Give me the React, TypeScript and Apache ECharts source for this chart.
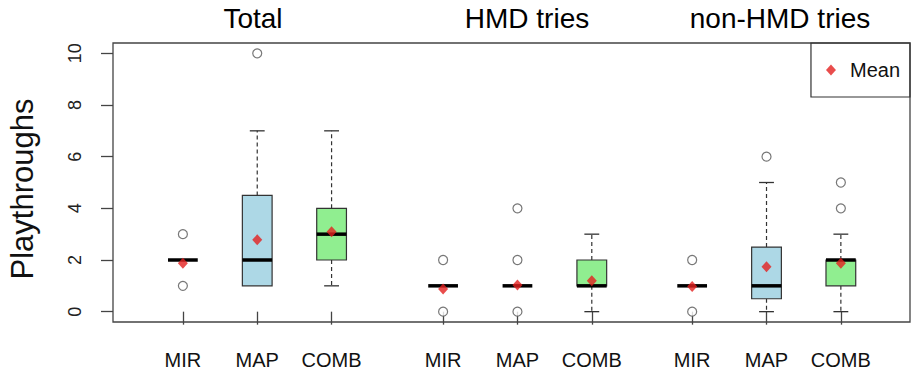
import React, { useEffect, useRef } from "react";
import * as echarts from "echarts";

// ---- data ----
const positions = [1, 2, 3, 4.5, 5.5, 6.5, 7.85, 8.85, 9.85];
const boxLabels = ["MIR", "MAP", "COMB", "MIR", "MAP", "COMB", "MIR", "MAP", "COMB"];
const whiskerLow = [2, 1, 1, 1, 1, 0, 1, 0, 0];
const q1 = [2, 1, 2, 1, 1, 1, 1, 0.5, 1];
const median = [2, 2, 3, 1, 1, 1, 1, 1, 2];
const q3 = [2, 4.5, 4, 1, 1, 2, 1, 2.5, 2];
const whiskerHigh = [2, 7, 7, 1, 1, 3, 1, 5, 3];
const means = [1.87, 2.78, 3.09, 0.88, 1.03, 1.2, 0.97, 1.74, 1.87];
// [box index, value]
const outliers: [number, number][] = [
  [0, 1], [0, 3],
  [1, 10],
  [3, 0], [3, 2],
  [4, 0], [4, 2], [4, 4],
  [6, 0], [6, 2],
  [7, 6],
  [8, 4], [8, 5],
];
const groupTitles = ["Total", "HMD tries", "non-HMD tries"];
const yTicks = [0, 2, 4, 6, 8, 10];
const yTitle = "Playthroughs";

const FONT = "'Liberation Sans', Arial, Helvetica, sans-serif";
const fillFor: Record<string, string> = { MIR: "#ffffff", MAP: "#add8e6", COMB: "#90ee90" };

export default function App() {
  const ref = useRef<HTMLDivElement>(null);
  useEffect(() => {
    if (!ref.current) return;
    const chart = echarts.init(ref.current, null, { renderer: "svg" });

    const boxData = positions.map((p, i) => [p, whiskerLow[i], q1[i], median[i], q3[i], whiskerHigh[i], i]);

    const renderBox = (params: any, api: any) => {
      const x = api.value(0);
      const lo = api.value(1);
      const b1 = api.value(2);
      const md = api.value(3);
      const b3 = api.value(4);
      const hi = api.value(5);
      const idx = api.value(6);
      const w = api.size([0.4, 0])[0];
      const cap = w / 2;
      const pLo = api.coord([x, lo]);
      const p1 = api.coord([x, b1]);
      const pM = api.coord([x, md]);
      const p3 = api.coord([x, b3]);
      const pHi = api.coord([x, hi]);
      const cx = pM[0];
      const stroke = "#333";
      const children: any[] = [];
      const dashStyle = { stroke, lineWidth: 1.2, lineDash: [4, 3] };
      if (hi > b3) {
        children.push({ type: "line", shape: { x1: cx, y1: p3[1], x2: cx, y2: pHi[1] }, style: dashStyle });
        children.push({ type: "line", shape: { x1: cx - cap / 2, y1: pHi[1], x2: cx + cap / 2, y2: pHi[1] }, style: { stroke, lineWidth: 1.3 } });
      }
      if (lo < b1) {
        children.push({ type: "line", shape: { x1: cx, y1: p1[1], x2: cx, y2: pLo[1] }, style: dashStyle });
        children.push({ type: "line", shape: { x1: cx - cap / 2, y1: pLo[1], x2: cx + cap / 2, y2: pLo[1] }, style: { stroke, lineWidth: 1.3 } });
      }
      if (b3 > b1) {
        children.push({
          type: "rect",
          shape: { x: cx - w / 2, y: p3[1], width: w, height: p1[1] - p3[1] },
          style: { fill: fillFor[boxLabels[idx]], stroke, lineWidth: 1.2 },
        });
      }
      children.push({
        type: "line",
        shape: { x1: cx - w / 2, y1: pM[1], x2: cx + w / 2, y2: pM[1] },
        style: { stroke: "#000", lineWidth: 3.5 },
      });
      return { type: "group", children };
    };

    const labelFor = (v: number) => {
      const i = positions.findIndex((p) => Math.abs(p - v) < 1e-6);
      return i >= 0 ? boxLabels[i] : "";
    };

    const titleStyle = (t: string) => ({ text: t, fontSize: 28, fontFamily: FONT, fill: "#000", align: "center", verticalAlign: "middle" });

    chart.setOption({
      animation: false,
      backgroundColor: "#ffffff",
      grid: { left: 113, right: 1, top: 43, bottom: 52, show: true, borderColor: "#444", borderWidth: 1.3, backgroundColor: "transparent" },
      xAxis: {
        type: "value",
        min: 0.06,
        max: 10.78,
        splitLine: { show: false },
        axisLine: { show: false },
        axisTick: { show: true, length: 13, customValues: positions, lineStyle: { color: "#444", width: 1.3 } },
        axisLabel: {
          show: true,
          customValues: positions,
          formatter: (v: number) => labelFor(v),
          fontSize: 20,
          fontFamily: FONT,
          color: "#111",
          margin: 28,
        },
      },
      yAxis: {
        type: "value",
        min: -0.4,
        max: 10.4,
        splitLine: { show: false },
        axisLine: { show: false },
        axisTick: { show: true, length: 12, customValues: yTicks, lineStyle: { color: "#444", width: 1.3 } },
        axisLabel: {
          show: true,
          customValues: yTicks,
          rotate: 90,
          fontSize: 18,
          fontFamily: FONT,
          color: "#222",
          margin: 29,
        },
      },
      legend: {
        data: [{ name: "Mean", icon: "diamond" }],
        right: 1,
        top: 43,
        orient: "vertical",
        selectedMode: false,
        borderColor: "#333",
        borderWidth: 1.2,
        borderRadius: 0,
        padding: [17, 10, 17, 15],
        itemWidth: 10,
        itemHeight: 11,
        textStyle: { fontSize: 20, fontFamily: FONT, color: "#111", padding: [0, 0, 0, 9] },
      },
      graphic: [
        { type: "text", x: 253, y: 18, style: titleStyle(groupTitles[0]) },
        { type: "text", x: 527, y: 18, style: titleStyle(groupTitles[1]) },
        { type: "text", x: 780, y: 18, style: titleStyle(groupTitles[2]) },
        {
          type: "text",
          x: 22,
          y: 189,
          rotation: Math.PI / 2,
          style: { text: yTitle, fontSize: 31, fontFamily: FONT, fill: "#111", align: "center", verticalAlign: "middle" },
        },
      ],
      series: [
        {
          type: "custom",
          name: "boxes",
          renderItem: renderBox,
          data: boxData,
          encode: { x: 0, y: [1, 2, 3, 4, 5] },
          z: 2,
          silent: true,
        },
        {
          type: "scatter",
          name: "outliers",
          data: outliers.map(([i, v]) => [positions[i], v]),
          symbol: "circle",
          symbolSize: 9,
          itemStyle: { color: "#ffffff", borderColor: "#555", borderWidth: 1.2 },
          z: 3,
          silent: true,
        },
        {
          type: "scatter",
          name: "Mean",
          data: means.map((m, i) => [positions[i], m]),
          symbol: "diamond",
          symbolSize: [10, 11],
          itemStyle: { color: "#e4211f" },
          z: 4,
          silent: true,
        },
      ],
    });
    return () => chart.dispose();
  }, []);
  return <div ref={ref} style={{ position: "fixed", left: 0, top: 0, width: 911, height: 374 }} />;
}
